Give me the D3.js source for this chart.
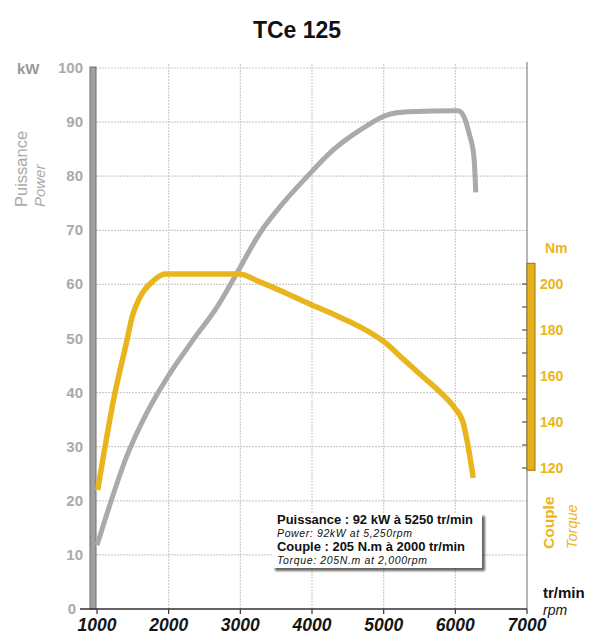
<!DOCTYPE html>
<html><head><meta charset="utf-8">
<script src="https://cdn.jsdelivr.net/npm/d3@7"></script>
<style>body{margin:0;background:#fff}svg{display:block;font-family:"Liberation Sans",Arial,sans-serif}</style>
</head><body><svg id="c" width="592" height="635"></svg>
<script>
const title = "TCe 125";
const rpmTicks = [1000,2000,3000,4000,5000,6000,7000];
const kwTicks = [0,10,20,30,40,50,60,70,80,90,100];
const nmTicks = [120,140,160,180,200];
const nmMinor = [120,130,140,150,160,170,180,190,200];
const powerRpm = [1000,1112,1414,1693,1972,2339,2674,2953,3274,3595,3930,4292,4669,5045,5340,6040,6120,6190,6260,6285];
const powerKw  = [11.8,16.5,28.2,36.2,42.6,49.7,55.8,62.1,69.5,75.0,79.9,84.8,88.5,91.3,91.9,92.1,91.0,88.0,83.5,77.0];
const torqueRpm = [1010,1250,1420,1490,1600,1770,1950,2980,3270,3640,4000,4380,4750,5030,5240,5520,5800,5980,6110,6180,6250];
const torqueNm  = [110.4,152.6,175.7,185.7,194.3,200.9,204.3,204.3,200.9,196.0,190.9,185.7,180.0,174.3,168.3,160.4,152.6,146.5,139.6,129.1,115.7];
const infoLines = [
  {t:"Puissance : 92 kW à 5250 tr/min", b:true,  w:196},
  {t:"Power: 92kW at 5,250rpm",         b:false, w:135},
  {t:"Couple : 205 N.m à 2000 tr/min",  b:true,  w:188},
  {t:"Torque: 205N.m at 2,000rpm",      b:false, w:150}
];

const svg = d3.select("#c");
const x = d3.scaleLinear().domain([1000,7000]).range([97,527]);
const y = d3.scaleLinear().domain([0,100]).range([609,68]);
const yT = d3.scaleLinear().domain([120,200]).range([468,284]);
const grey = "#a9a9ae", orange = "#e9b51c", txtOrange = "#eab520";

// title
svg.append("text").attr("x",297).attr("y",38).attr("text-anchor","middle")
  .attr("font-size",23).attr("font-weight","bold").attr("fill","#111").text(title);

// gridlines
const g = svg.append("g");
g.selectAll("line.h").data(kwTicks.filter(d=>d>0)).join("line")
  .attr("x1",96).attr("x2",527).attr("y1",d=>y(d)).attr("y2",d=>y(d))
  .attr("stroke","#cdcdcd").attr("stroke-width",1.2).attr("stroke-dasharray","2,1");
g.selectAll("line.v").data(rpmTicks.slice(1,-1)).join("line")
  .attr("x1",d=>x(d)).attr("x2",d=>x(d)).attr("y1",64).attr("y2",609)
  .attr("stroke","#cdcdcd").attr("stroke-width",1.2).attr("stroke-dasharray","2,1");
// right border
svg.append("line").attr("x1",527).attr("x2",527).attr("y1",62).attr("y2",609)
  .attr("stroke","#8e8e8e").attr("stroke-width",1.3);

// left bar
svg.append("rect").attr("x",90).attr("y",67).attr("width",6).attr("height",542)
  .attr("fill","#a0a0a0").attr("stroke","#6e6e6e").attr("stroke-width",1);

// left labels
svg.selectAll("text.kw").data(kwTicks).join("text")
  .attr("x",d=>d===0?76:83).attr("y",d=>y(d)+5).attr("text-anchor","end")
  .attr("font-size",15).attr("font-weight","bold").attr("fill","#aaaaaa").text(d=>d);
svg.append("text").attr("x",17).attr("y",74).attr("font-size",15).attr("font-weight","bold")
  .attr("fill","#9a9a9a").text("kW");
svg.append("text").attr("transform","translate(27,207) rotate(-90)")
  .attr("font-size",16.5).attr("fill","#aaaaaa").text("Puissance");
svg.append("text").attr("transform","translate(45,207) rotate(-90)")
  .attr("font-size",15).attr("font-style","italic").attr("fill","#aaaaaa").text("Power");

// bottom axis
svg.append("line").attr("x1",80).attr("x2",527).attr("y1",609).attr("y2",609)
  .attr("stroke","#333").attr("stroke-width",1.3);
svg.selectAll("line.xt").data(rpmTicks).join("line")
  .attr("x1",d=>x(d)).attr("x2",d=>x(d)).attr("y1",609).attr("y2",614)
  .attr("stroke","#333").attr("stroke-width",1.2);
svg.selectAll("text.xl").data(rpmTicks).join("text")
  .attr("x",d=>x(d)).attr("y",631).attr("text-anchor","middle")
  .attr("font-size",17.5).attr("font-weight","bold").attr("font-style","italic")
  .attr("fill","#151515").text(d=>d);
svg.append("text").attr("x",543).attr("y",598).attr("font-size",15).attr("font-weight","bold")
  .attr("fill","#111").text("tr/min");
svg.append("text").attr("x",543).attr("y",615).attr("font-size",14).attr("font-style","italic")
  .attr("fill","#111").text("rpm");

// curves
const line = d3.line().curve(d3.curveMonotoneX);
svg.append("path").attr("d",line(powerRpm.map((r,i)=>[x(r),y(powerKw[i])])))
  .attr("fill","none").attr("stroke",grey).attr("stroke-width",5).attr("stroke-linecap","butt");
svg.append("path").attr("d",line(torqueRpm.map((r,i)=>[x(r),yT(torqueNm[i])])))
  .attr("fill","none").attr("stroke",orange).attr("stroke-width",5.5).attr("stroke-linecap","butt");

// right torque axis
svg.append("rect").attr("x",527).attr("y",yT(209)).attr("width",8).attr("height",yT(119)-yT(209))
  .attr("fill","#e6b020").attr("stroke","#9c7410").attr("stroke-width",1);
svg.selectAll("line.nt").data(nmMinor).join("line")
  .attr("x1",522).attr("x2",527).attr("y1",d=>yT(d)).attr("y2",d=>yT(d))
  .attr("stroke","#555").attr("stroke-width",1.2);
svg.selectAll("text.nl").data(nmTicks).join("text")
  .attr("x",540).attr("y",d=>yT(d)+5).attr("font-size",14).attr("font-weight","bold")
  .attr("fill",txtOrange).text(d=>d);
svg.append("text").attr("x",545).attr("y",253).attr("font-size",14).attr("font-weight","bold")
  .attr("fill",txtOrange).text("Nm");
svg.append("text").attr("transform","translate(554,549) rotate(-90)")
  .attr("font-size",15.5).attr("font-weight","bold").attr("fill",txtOrange).text("Couple");
svg.append("text").attr("transform","translate(577,549) rotate(-90)")
  .attr("font-size",14.5).attr("font-style","italic").attr("fill",txtOrange).text("Torque");

// info box
const defs = svg.append("defs");
const f = defs.append("filter").attr("id","sh").attr("x","-10%").attr("y","-10%").attr("width","130%").attr("height","140%");
f.append("feGaussianBlur").attr("in","SourceAlpha").attr("stdDeviation",1.2).attr("result","b");
f.append("feOffset").attr("dx",3).attr("dy",3).attr("result","o");
f.append("feComponentTransfer").append("feFuncA").attr("type","linear").attr("slope",0.6);
const fm = f.append("feMerge"); fm.append("feMergeNode"); fm.append("feMergeNode").attr("in","SourceGraphic");
svg.append("rect").attr("x",272).attr("y",513).attr("width",210).attr("height",55)
  .attr("fill","#fff").attr("filter","url(#sh)");
svg.selectAll("text.info").data(infoLines).join("text")
  .attr("x",277).attr("y",(d,i)=>[524,537,551,564][i])
  .attr("font-size",d=>d.b?12:10.5).attr("font-weight",d=>d.b?"bold":"normal")
  .attr("font-style",d=>d.b?"normal":"italic").attr("fill","#111")
  .attr("textLength",d=>d.w).attr("lengthAdjust",d=>d.b?"spacingAndGlyphs":"spacing").text(d=>d.t);
</script></body></html>
